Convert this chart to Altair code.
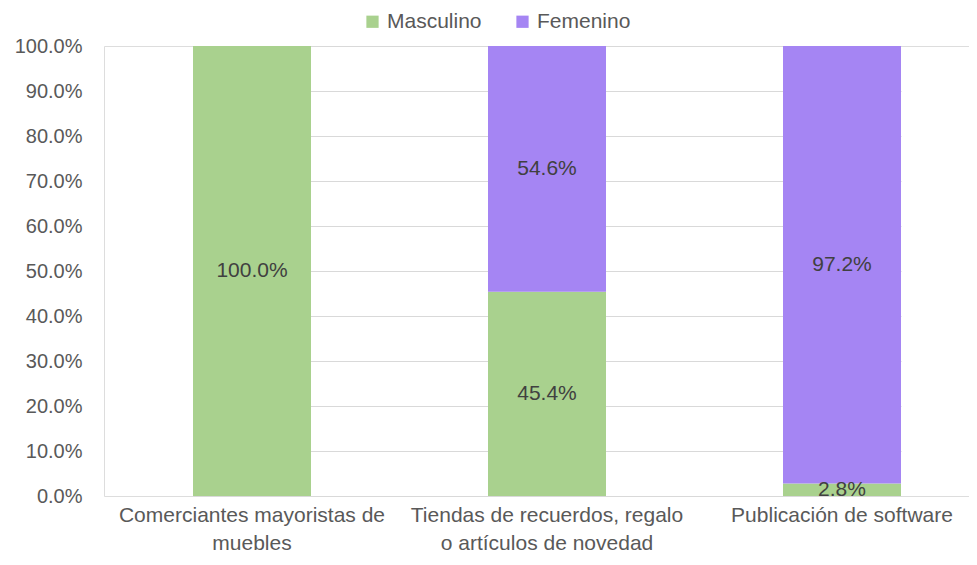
import altair as alt
import pandas as pd

categories = [
    "Comerciantes mayoristas de\nmuebles",
    "Tiendas de recuerdos, regalo\no artículos de novedad",
    "Publicación de software",
]
series = ["Masculino", "Femenino"]
masculino = [1.000, 0.454, 0.028]
femenino = [0.000, 0.546, 0.972]
colors = ["#A9D18E", "#A585F3"]

rows = []
for i, c in enumerate(categories):
    rows.append({"cat": c, "sex": "Masculino", "ord": 0, "value": masculino[i]})
    rows.append({"cat": c, "sex": "Femenino", "ord": 1, "value": femenino[i]})
df = pd.DataFrame(rows)

FONT = "Liberation Sans"

x_enc = alt.X(
    "cat:N",
    sort=categories,
    title=None,
    scale=alt.Scale(range=[89, 797], paddingInner=0.6, paddingOuter=0),
    axis=alt.Axis(
        labelAngle=0,
        labelExpr="split(datum.label, '\\n')",
        labelFont=FONT,
        labelFontSize=21,
        labelColor="#595959",
        labelLineHeight=28,
        labelPadding=8,
        labelLimit=0,
        ticks=False,
        domain=False,
        grid=False,
    ),
)

bars = alt.Chart(df).mark_bar().encode(
    x=x_enc,
    y=alt.Y(
        "value:Q",
        stack="zero",
        title=None,
        scale=alt.Scale(domain=[0, 1], nice=False),
        axis=alt.Axis(
            format=".1%",
            values=[i / 10 for i in range(11)],
            labelFont=FONT,
            labelFontSize=20,
            labelColor="#595959",
            labelPadding=22,
            ticks=False,
            domain=False,
            gridColor="#D9D9D9",
            gridWidth=1.2,
        ),
    ),
    color=alt.Color(
        "sex:N",
        scale=alt.Scale(domain=series, range=colors),
        legend=alt.Legend(
            title=None,
            orient="none",
            legendX=258,
            legendY=-35,
            direction="horizontal",
            symbolType="square",
            symbolSize=150,
            symbolStrokeWidth=0,
            labelFont=FONT,
            labelFontSize=21,
            labelColor="#595959",
            labelOffset=4,
            columnPadding=30,
        ),
    ),
    order=alt.Order("ord:Q"),
)

labels = (
    alt.Chart(df)
    .transform_stack(stack="value", groupby=["cat"], as_=["y0", "y1"], sort=[alt.SortField("ord")])
    .transform_calculate(mid="(datum.y0 + datum.y1) / 2")
    .transform_filter("datum.value > 0")
    .mark_text(font=FONT, fontSize=21, color="#404040", baseline="middle")
    .encode(
        x=alt.X("cat:N", sort=categories),
        y=alt.Y("mid:Q"),
        text=alt.Text("value:Q", format=".1%"),
    )
)

chart = (
    alt.layer(bars, labels)
    .properties(
        width=865,
        height=450,
        autosize="none",
        padding={"left": 96, "top": 38, "right": 0, "bottom": 61},
    )
    .configure_view(stroke=None)
    .configure(background="white")
)

chart.save("out.html", embed_options={"renderer": "svg", "actions": False})
